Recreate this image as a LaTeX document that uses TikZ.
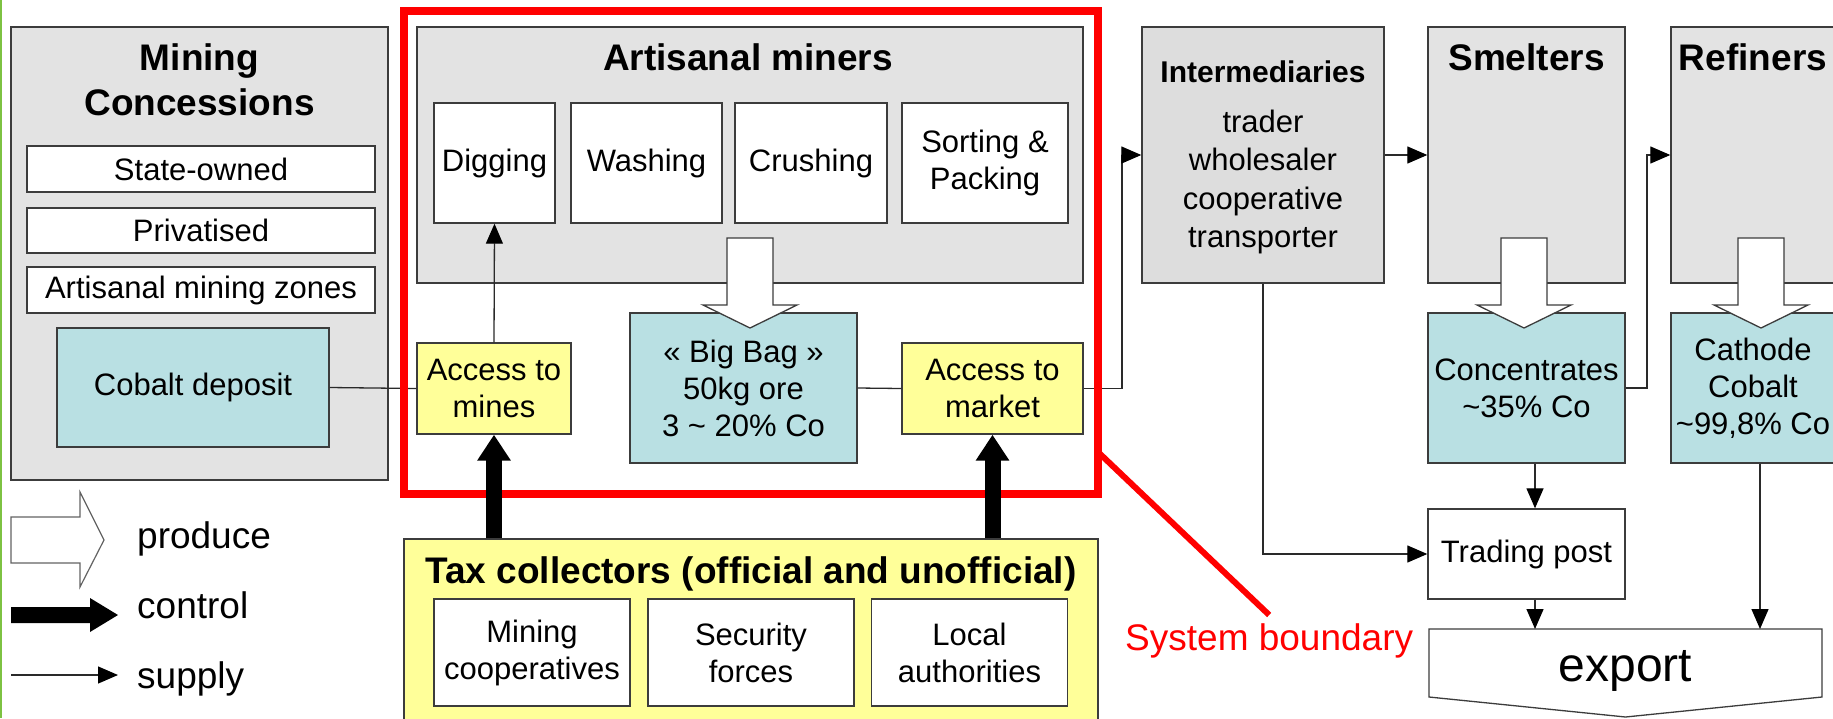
\documentclass[tikz,border=0pt]{standalone}
\usepackage{fontspec}
\setmainfont{Liberation Sans}
\usetikzlibrary{arrows.meta,calc}
\definecolor{boxgray}{HTML}{E3E3E3}
\definecolor{intgray}{HTML}{DDDDDD}
\definecolor{boxblue}{HTML}{B9E0E3}
\definecolor{boxyellow}{HTML}{FFFF99}
\definecolor{edge}{HTML}{3C3C3C}
\definecolor{linkc}{HTML}{2A2A2A}
\definecolor{slidegreen}{HTML}{7DC242}
\begin{document}
\begin{tikzpicture}[x=1pt,y=-1pt,
  box/.style={draw=edge,line width=1.4pt,inner sep=0pt,align=center,font=\fontsize{31}{37}\selectfont},
  gbox/.style={box,fill=boxgray},
  bbox/.style={box,fill=boxblue},
  ybox/.style={box,fill=boxyellow},
  wbox/.style={box,fill=white},
  title/.style={anchor=base,inner sep=0pt,font=\fontsize{37}{44}\bfseries\selectfont},
  bodytext/.style={inner sep=0pt,align=center,font=\fontsize{31}{38.5}\selectfont},
  legendtext/.style={anchor=base west,inner sep=0pt,font=\fontsize{37}{44}\selectfont},
  link/.style={draw=linkc,line width=1.3pt},
  supply/.style={link,-{Triangle[length=20pt,width=17pt,fill=black,color=black]}},
  control/.style={draw=black,line width=16pt,-{Triangle[length=26pt,width=32pt]}},
  prodarrow/.pic={\draw[draw=edge,line width=1.3pt,fill=white] (-23,0) -- (23,0) -- (23,67) -- (47,67) -- (0,90) -- (-47,67) -- (-23,67) -- cycle;}
]
\useasboundingbox (0,0) rectangle (1833,718);
\clip (0,0) rectangle (1833,718);
\fill[white] (0,0) rectangle (1833,718);
\draw[slidegreen,line width=1.6pt] (0.8,0) -- (0.8,718);

% Mining concessions
\node[gbox,minimum width=377pt,minimum height=453pt] (mc) at (199.5,253.5) {};
\node[title] (mct1) at (199.5,70) {Mining};
\node[title] (mct2) at (199.5,115) {Concessions};
\node[wbox,minimum width=348pt,minimum height=46pt] (so) at (201,169) {State-owned};
\node[wbox,minimum width=348pt,minimum height=45pt] (pr) at (201,230.5) {Privatised};
\node[wbox,minimum width=348pt,minimum height=46pt] (amz) at (201,290) {Artisanal mining zones};
\node[bbox,minimum width=272pt,minimum height=119pt] (cd) at (193,387.5) {Cobalt deposit};

% Artisanal miners
\node[gbox,minimum width=666pt,minimum height=256pt] (am) at (750,155) {};
\node[title] (amt) at (748,70) {Artisanal miners};
\node[wbox,minimum width=121pt,minimum height=120pt] (dig) at (494.5,163) {Digging};
\node[wbox,minimum width=151pt,minimum height=120pt] (wash) at (646.5,163) {Washing};
\node[wbox,minimum width=152pt,minimum height=120pt] (crush) at (811,163) {Crushing};
\node[wbox,minimum width=166pt,minimum height=120pt] (sort) at (985,163) {Sorting \&\\Packing};
\node[bbox,minimum width=227pt,minimum height=150pt] (bb) at (743.5,388) {« Big Bag »\\50kg ore\\3 \textasciitilde{} 20\% Co};
\node[ybox,minimum width=154pt,minimum height=91pt] (accm) at (494,388.5) {Access to\\mines};
\node[ybox,minimum width=181pt,minimum height=91pt] (accmk) at (992.5,388.5) {Access to\\market};

% Intermediaries, smelters, refiners
\node[box,fill=intgray,minimum width=242pt,minimum height=256pt] (inter) at (1263,155) {};
\node[anchor=base,inner sep=0pt,font=\fontsize{30}{36}\bfseries\selectfont] (intt) at (1263,82) {Intermediaries};
\node[bodytext] (intb) at (1263,182) {trader\\wholesaler\\cooperative\\transporter};
\node[gbox,minimum width=197pt,minimum height=256pt] (smel) at (1526.5,155) {};
\node[title] (smelt) at (1526.5,70) {Smelters};
\node[gbox,minimum width=164pt,minimum height=256pt] (ref) at (1753,155) {};
\node[title] (reft) at (1753,70) {Refiners};
\node[bbox,minimum width=197pt,minimum height=150pt] (conc) at (1526.5,388) {Concentrates\\\textasciitilde35\% Co};
\node[bbox,minimum width=164pt,minimum height=150pt] (cath) at (1753,388) {Cathode\\Cobalt\\\textasciitilde99,8\% Co};
\node[wbox,minimum width=197pt,minimum height=90pt] (tp) at (1526.5,554) {Trading post};

% export
\node[inner sep=0pt,outer sep=0pt,minimum width=393pt,minimum height=68pt] (expbox) at (1625.5,663) {};
\draw[draw=edge,line width=1.3pt,fill=white] (expbox.north west) -- (expbox.north east) -- (expbox.south east) -- ($(expbox.south)+(0,20)$) -- (expbox.south west) -- cycle;
\node[inner sep=0pt,font=\fontsize{48}{56}\selectfont] (expt) at (1625.5,671) {export};

% produce arrows
\pic at (750,238) {prodarrow};
\pic at (1524,238) {prodarrow};
\pic at (1761,238) {prodarrow};

% Tax collectors
\node[ybox,minimum width=694pt,minimum height=221pt] (tax) at (751,649.5) {};
\node[title] (taxt) at (751,583) {Tax collectors (official and unofficial)};
\node[wbox,minimum width=196pt,minimum height=107pt] (mcoop) at (532,652.5) {Mining\\cooperatives};
\node[wbox,minimum width=206pt,minimum height=107pt] (sec) at (751,652.5) {Security\\forces};
\node[wbox,minimum width=196pt,minimum height=107pt] (loc) at (969.5,652.5) {Local\\authorities};

% supply links
\draw[link] (cd.east) -- (accm.west);
\draw[supply] (accm.north) -- (dig.south);
\draw[link] (bb.east) -- (accmk.west);
\draw[supply] (accmk.east) -- (1122,388.5) |- (inter.west);
\draw[supply] (inter.east) -- (smel.west |- inter.east);
\draw[supply] (conc.east) -- (1647,388) |- (ref.west);
\draw[supply] (inter.south) |- (tp.west);
\draw[supply] ([xshift=8.5pt]conc.south) -- ([xshift=8.5pt]tp.north);
\draw[supply] ([xshift=8.5pt]tp.south) -- ([xshift=8.5pt]tp.south |- expbox.north);
\draw[supply] ([xshift=7pt]cath.south) -- ([xshift=7pt]cath.south |- expbox.north);

% system boundary
\node[draw=red,line width=8pt,inner sep=0pt,outer sep=0pt,minimum width=694.5pt,minimum height=482.5pt] (sysb) at (750.75,252.25) {};
\node[anchor=base west,inner sep=0pt,text=red,font=\fontsize{37}{44}\selectfont] (sbt) at (1125,650) {System boundary};
\draw[red,line width=6pt] ($(sysb.south east)+(0,-41.5)$) -- ([yshift=8pt]sbt.north);

% control arrows
\draw[control] (tax.north -| accm.south) -- (accm.south);
\draw[control] (tax.north -| accmk.south) -- (accmk.south);

% legend
\draw[draw=edge!80,line width=1.2pt,fill=white] (11,517) -- (80,517) -- (80,492) -- (104,540) -- (80,587) -- (80,563) -- (11,563) -- cycle;
\node[legendtext] (lp) at (137,548) {produce};
\fill[black] (11,607) -- (90,607) -- (90,598) -- (118,615) -- (90,632) -- (90,623) -- (11,623) -- cycle;
\node[legendtext] (lc) at (137,618) {control};
\coordinate (ls0) at (11,675);
\coordinate (ls1) at (118,675);
\draw[supply] (ls0) -- (ls1);
\node[legendtext] (ls) at (137,688) {supply};
\end{tikzpicture}
\end{document}
